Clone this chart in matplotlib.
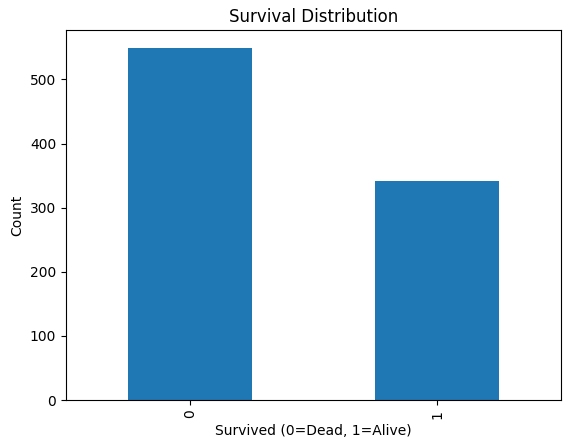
import matplotlib
matplotlib.use("Agg")
import matplotlib.pyplot as plt
import pandas as pd

# survival counts (titanic train set)
survived = [0, 1]
counts = [549, 342]

W, H = 571, 448
fig = plt.figure(figsize=(W / 100, H / 100), dpi=100)
ax = fig.add_axes([66 / W, 48 / H, 495 / W, 369.6 / H])

s = pd.Series(counts, index=survived)
s.plot(kind='bar', ax=ax, color='#1f77b4')

ax.set_title('Survival Distribution')
ax.set_xlabel('Survived (0=Dead, 1=Alive)')
ax.set_ylabel('Count')

fig.savefig('out.png', dpi=100)
